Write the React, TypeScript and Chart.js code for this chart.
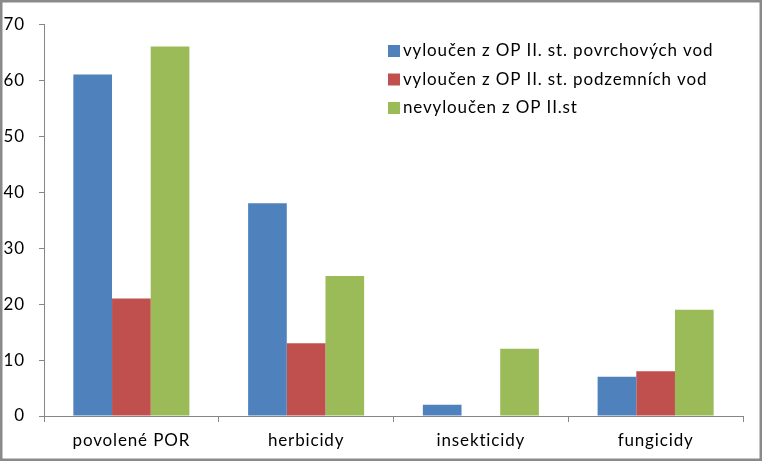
import React, { useEffect, useRef } from "react";
import { Chart, registerables } from "chart.js";

Chart.register(...registerables);

const categories = ["povolené POR", "herbicidy", "insekticidy", "fungicidy"];
const seriesNames = [
  "vyloučen z OP II. st. povrchových vod",
  "vyloučen z OP II. st. podzemních vod",
  "nevyloučen z OP II.st",
];
const surfaceValues = [61, 38, 2, 7];
const groundValues = [21, 13, 0, 8];
const notExcludedValues = [66, 25, 12, 19];
const seriesColors = ["#4F81BD", "#C0504D", "#9BBB59"];

const FONT = "Lato, 'Open Sans', sans-serif";

const overlayPlugin = {
  id: "overlay",
  beforeDraw(chart: any) {
    (chart.ctx as any).letterSpacing = "0.85px";
  },
  afterDraw(chart: any) {
    const ctx = chart.ctx;
    ctx.save();
    ctx.strokeStyle = "#8a8a8a";
    ctx.lineWidth = 2.5;
    ctx.strokeRect(1.25, 1.25, 759.5, 458.5);
    const ds = chart.data.datasets;
    (ctx as any).letterSpacing = "0.85px";
    ctx.font = `17px ${FONT}`;
    ctx.textBaseline = "middle";
    ctx.textAlign = "left";
    ds.forEach((d: any, i: number) => {
      const cy = 51 + i * 28.5;
      ctx.fillStyle = d.backgroundColor;
      ctx.fillRect(388, cy - 6, 12, 12);
      ctx.fillStyle = "#000";
      ctx.fillText(d.label, 403, cy);
    });
    ctx.restore();
  },
};

export default function App() {
  const ref = useRef<HTMLCanvasElement>(null);
  useEffect(() => {
    document.body.style.margin = "0";
    const ctx2d = ref.current!.getContext("2d") as any;
    ctx2d.letterSpacing = "0.85px";
    const chart = new Chart(ref.current!, {
      type: "bar",
      data: {
        labels: categories,
        datasets: [
          { label: seriesNames[0], data: surfaceValues, backgroundColor: seriesColors[0] },
          { label: seriesNames[1], data: groundValues, backgroundColor: seriesColors[1] },
          { label: seriesNames[2], data: notExcludedValues, backgroundColor: seriesColors[2] },
        ],
      },
      options: {
        animation: false,
        responsive: false,
        layout: { padding: { left: 0, top: 21, right: 21, bottom: 0 } },
        datasets: { bar: { barPercentage: 1, categoryPercentage: 0.664 } },
        plugins: { legend: { display: false }, tooltip: { enabled: false } },
        scales: {
          x: {
            afterFit: (s: any) => { s.height = 46; },
            grid: { drawOnChartArea: false, tickLength: 6, color: "#868686", offset: true },
            border: { color: "#868686", width: 1 },
            ticks: { color: "#000", font: { family: FONT, size: 17 }, padding: 8, maxRotation: 0 },
          },
          y: {
            min: 0,
            max: 70,
            afterFit: (s: any) => { s.width = 44; },
            grid: { drawOnChartArea: false, tickLength: 5, color: "#868686" },
            border: { color: "#868686", width: 1 },
            ticks: { stepSize: 10, color: "#000", font: { family: FONT, size: 17 }, padding: 14 },
          },
        },
      },
      plugins: [overlayPlugin],
    });
    return () => chart.destroy();
  }, []);
  return <canvas ref={ref} width={764} height={462} style={{ display: "block" }} />;
}
